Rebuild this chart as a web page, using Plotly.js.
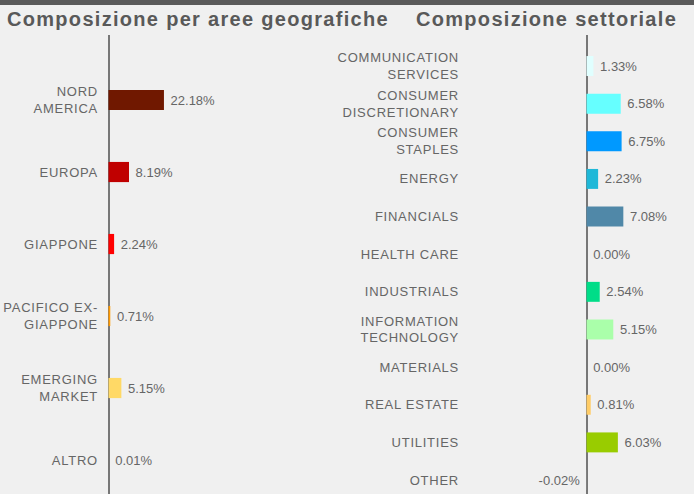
<!DOCTYPE html>
<html>
<head>
<meta charset="utf-8">
<script src="https://cdn.plot.ly/plotly-3.0.1.min.js"></script>
<style>
html,body{margin:0;padding:0;background:#f0f0f0;}
#chart{width:694px;height:494px;}
.annotation-text{letter-spacing:1.3px;}
.yaxislayer-above text{letter-spacing:0.75px;}
</style>
</head>
<body>
<div id="chart"></div>
<script>
// ---- Data ----
var geoCategories = ['NORD<br>AMERICA','EUROPA','GIAPPONE','PACIFICO EX-<br>GIAPPONE','EMERGING<br>MARKET','ALTRO'];
var geoValues = [22.18, 8.19, 2.24, 0.71, 5.15, 0.01];
var geoColors = ['#701800','#c00000','#ff0000','#ff9900','#ffd966','#996633'];

var sectorCategories = ['COMMUNICATION<br>SERVICES','CONSUMER<br>DISCRETIONARY','CONSUMER<br>STAPLES','ENERGY','FINANCIALS','HEALTH CARE','INDUSTRIALS','INFORMATION<br>TECHNOLOGY','MATERIALS','REAL ESTATE','UTILITIES','OTHER'];
var sectorValues = [1.33, 6.58, 6.75, 2.23, 7.08, 0.00, 2.54, 5.15, 0.00, 0.81, 6.03, -0.02];
var sectorColors = ['#e0ffff','#66ffff','#0099ff','#1fb8d8','#5088a8','#cc99ff','#00dd88','#aaffaa','#999999','#ffcc66','#99cc00','#cccccc'];

var titles = ['Composizione per aree geografiche','Composizione settoriale'];

function fmt(v){ var s = v.toFixed(2) + '%'; return v >= 0 ? ' ' + s : s + ' '; }

var W = 694, H = 494;
var topPx = 35;

var traces = [
  {
    type:'bar', orientation:'h',
    y: geoCategories, x: geoValues,
    marker:{color: geoColors},
    width: 0.28,
    text: geoValues.map(fmt), textposition:'outside', cliponaxis:false, constraintext:'none',
    textfont:{family:'Liberation Sans, Arial, sans-serif', size:13, color:'#666666'},
    xaxis:'x', yaxis:'y', hoverinfo:'none'
  },
  {
    type:'bar', orientation:'h',
    y: sectorCategories, x: sectorValues,
    marker:{color: sectorColors},
    width: 0.53,
    text: sectorValues.map(fmt), textposition:'outside', cliponaxis:false, constraintext:'none',
    textfont:{family:'Liberation Sans, Arial, sans-serif', size:13, color:'#666666'},
    xaxis:'x2', yaxis:'y2', hoverinfo:'none'
  }
];

var yDom = [0, 1 - topPx/H];
var tickFont = {family:'Liberation Sans, Arial, sans-serif', size:13, color:'#666666'};

var layout = {
  width: W, height: H,
  margin:{l:0,r:0,t:0,b:0},
  paper_bgcolor:'#f0f0f0', plot_bgcolor:'#f0f0f0',
  showlegend:false,
  font:{family:'Liberation Sans, Arial, sans-serif'},
  xaxis:{domain:[104/W, 330/W], range:[-1.8, 88.6], showgrid:false, showticklabels:false,
         zeroline:true, zerolinecolor:'#777777', zerolinewidth:2, fixedrange:true},
  yaxis:{domain:yDom, anchor:'x', type:'category', categoryorder:'array', categoryarray:geoCategories,
         range:[5.472, -0.903], showgrid:false, zeroline:false, showline:false, ticks:'',
         tickfont:tickFont, ticklabelstandoff:5},
  xaxis2:{domain:[463/W, 1], anchor:'y2', range:[-23.75, 20.67], showgrid:false, showticklabels:false,
          zeroline:true, zerolinecolor:'#777777', zerolinewidth:2, fixedrange:true},
  yaxis2:{domain:yDom, anchor:'x2', type:'category', categoryorder:'array', categoryarray:sectorCategories,
          range:[11.371, -0.824], showgrid:false, zeroline:false, showline:false, ticks:'',
          tickfont:tickFont, ticklabelstandoff:3},
  shapes:[
    {type:'rect', xref:'paper', yref:'paper', x0:0, x1:1, y0:1 - 5/H, y1:1, fillcolor:'#5a5a5a', line:{width:0}, layer:'above'}
  ],
  annotations:[
    {text:titles[0], xref:'paper', yref:'paper', x:5/W, y:1 - 19/H, xanchor:'left', yanchor:'middle', showarrow:false,
     font:{family:'Liberation Sans, Arial, sans-serif', size:20, color:'#595959', weight:'bold'}},
    {text:titles[1], xref:'paper', yref:'paper', x:414/W, y:1 - 19/H, xanchor:'left', yanchor:'middle', showarrow:false,
     font:{family:'Liberation Sans, Arial, sans-serif', size:20, color:'#595959', weight:'bold'}}
  ]
};

Plotly.newPlot('chart', traces, layout, {displayModeBar:false, staticPlot:true});
</script>
</body>
</html>
